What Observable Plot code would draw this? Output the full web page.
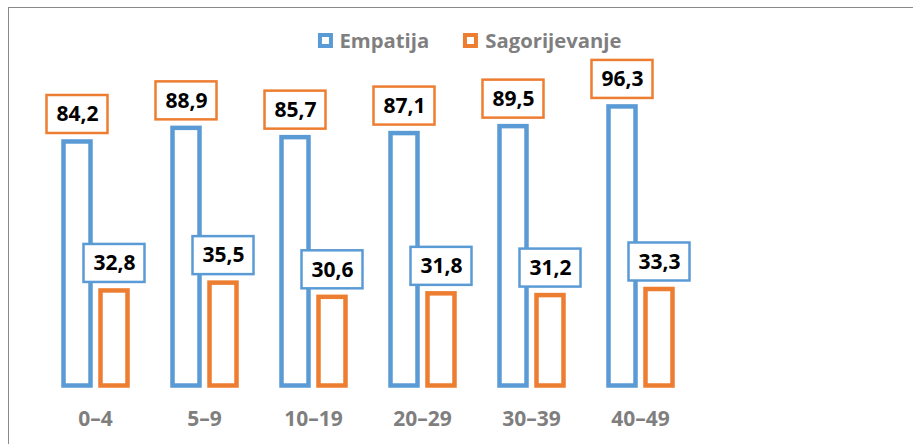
<!DOCTYPE html>
<html>
<head>
<meta charset="utf-8">
<script src="https://cdn.jsdelivr.net/npm/d3@7"></script>
<script src="https://cdn.jsdelivr.net/npm/@observablehq/plot@0.6"></script>
<style>
  html, body { margin: 0; padding: 0; background: #fff; }
  #chart { position: relative; width: 913px; height: 444px; overflow: hidden; font-family: "Open Sans", sans-serif; }
  #frame { position: absolute; left: 8px; top: 7px; right: -20px; bottom: -20px;
           border-left: 1.5px solid #8a8a8a; border-top: 1.5px solid #8a8a8a; }
  #legend { position: absolute; top: 25px; left: 469.5px; transform: translateX(-50%);
            display: flex; align-items: center; white-space: nowrap;
            font-weight: 700; font-size: 20.3px; color: #7f7f7f; height: 30px; }
  #legend .item { display: flex; align-items: center; }
  #legend .item + .item { margin-left: 34px; }
  #legend .sw { width: 15px; height: 15px; box-sizing: border-box; border: 4.5px solid; background: #fff; margin-right: 7px; }
  #plot { position: absolute; left: 0; top: 60px; }
</style>
</head>
<body>
<div id="chart">
  <div id="frame"></div>
  <div id="legend"></div>
  <div id="plot"></div>
</div>
<script>
const groups = ["0–4", "5–9", "10–19", "20–29", "30–39", "40–49"];
const seriesNames = ["Empatija", "Sagorijevanje"];
const empatija = [84.2, 88.9, 85.7, 87.1, 89.5, 96.3];
const sagorijevanje = [32.8, 35.5, 30.6, 31.8, 31.2, 33.3];
const seriesColors = ["#5b9bd5", "#ed7d31"];
const labelBoxColors = ["#ed7d31", "#5b9bd5"];

const data = [];
groups.forEach((g, i) => {
  data.push({group: g, series: seriesNames[0], value: empatija[i]});
  data.push({group: g, series: seriesNames[1], value: sagorijevanje[i]});
});
const fmt = v => v.toFixed(1).replace(".", ",");

// legend
const legend = document.getElementById("legend");
seriesNames.forEach((s, i) => {
  const it = document.createElement("div");
  it.className = "item";
  const sw = document.createElement("div");
  sw.className = "sw";
  sw.style.borderColor = seriesColors[i];
  const t = document.createElement("span");
  t.textContent = s;
  it.appendChild(sw); it.appendChild(t);
  legend.appendChild(it);
});

const common = {fx: "group", x: "series"};
const plot = Plot.plot({
  width: 913,
  height: 384,
  marginLeft: 55.5,
  marginRight: 232.5,
  marginTop: 35.7,
  marginBottom: 58.5,
  style: {fontFamily: "'Open Sans', sans-serif", background: "transparent", overflow: "visible"},
  fx: {domain: groups, paddingInner: 0.318, paddingOuter: 0, label: null},
  x: {domain: seriesNames, paddingInner: 0.28, paddingOuter: 0.14, axis: null},
  y: {domain: [0, 100], axis: null},
  color: {domain: seriesNames, range: seriesColors},
  marks: [
    Plot.barY(data, {...common, y: "value", fill: "white", stroke: "series", strokeWidth: 4.5}),
    Plot.barY(data.filter(d => d.series === seriesNames[0]), {...common, y1: "value", y2: "value",
      fill: "white", stroke: labelBoxColors[0], strokeWidth: 2.5,
      insetTop: -46.5, insetBottom: 8.5, insetLeft: -17, insetRight: -17}),
    Plot.text(data.filter(d => d.series === seriesNames[0]), {...common, y: "value", text: d => fmt(d.value),
      dy: -27.5, fontSize: 21, fontWeight: "bold", fill: "black"}),
    Plot.barY(data.filter(d => d.series === seriesNames[1]), {...common, y1: "value", y2: "value",
      fill: "white", stroke: labelBoxColors[1], strokeWidth: 2.5,
      insetTop: -46.5, insetBottom: 8.5, insetLeft: -17, insetRight: -17}),
    Plot.text(data.filter(d => d.series === seriesNames[1]), {...common, y: "value", text: d => fmt(d.value),
      dy: -27.5, fontSize: 21, fontWeight: "bold", fill: "black"}),
    Plot.axisFx({anchor: "bottom", tickSize: 0, tickPadding: 25, fontSize: 21, fontWeight: "bold", color: "#7f7f7f", label: null})
  ]
});
document.getElementById("plot").appendChild(plot);
</script>
</body>
</html>
